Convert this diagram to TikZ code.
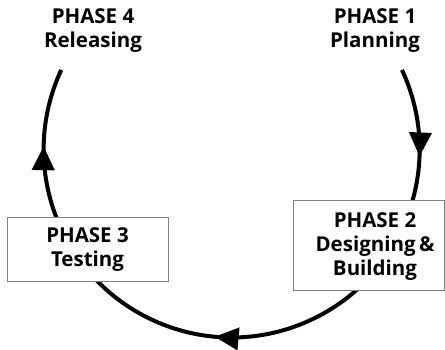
\documentclass[tikz,border=0pt]{standalone}
\usepackage{fontspec}
\setmainfont{Open Sans}
\usetikzlibrary{arrows.meta,decorations.markings}
\tikzset{
  lbl/.style={font=\bfseries\fontsize{20.5}{24}\selectfont, align=center, inner sep=0pt},
  phasebox/.style={draw=black!50, line width=1pt, fill=white},
  cyclearc/.style={line width=4pt,
    postaction={decorate},
    decoration={markings,
      mark=at position 0.118 with {\arrow{Triangle[length=24pt,width=22pt]}},
      mark=at position 0.5226 with {\arrow{Triangle[length=24pt,width=22pt]}},
      mark=at position 0.8957 with {\arrow{Triangle[length=24pt,width=22pt]}}}}
}
\begin{document}
\begin{tikzpicture}[x=1pt,y=-1pt]
\useasboundingbox (0,0) rectangle (445,350);
\coordinate (start) at (402,70);
\draw[cyclearc] (start) arc[start angle=-25,end angle=205,radius=188] coordinate (finish);
\node[lbl] (p4) at (93,31) {PHASE 4\\Releasing};
\node[lbl] (p1) at (375,31) {PHASE 1\\Planning};
\draw[phasebox] (7,218) rectangle (168,281);
\node[lbl] (p3) at (87.5,250) {PHASE 3\\Testing};
\draw[phasebox] (293,201) rectangle (444,290);
\node[lbl] (p2) at (375,247) {PHASE 2\\Designing\,\&\\Building};
\end{tikzpicture}
\end{document}
